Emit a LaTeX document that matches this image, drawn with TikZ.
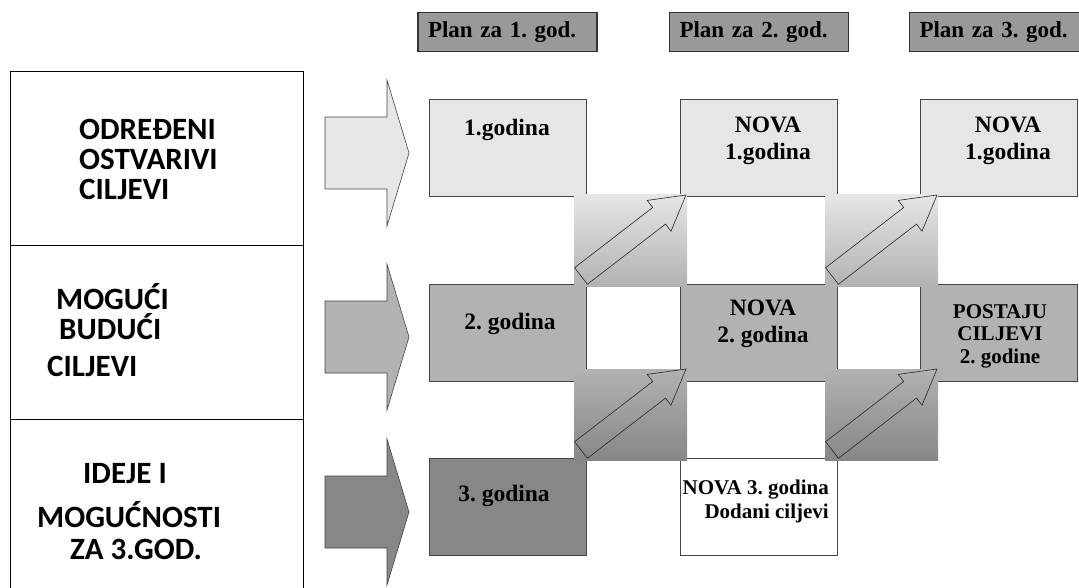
\documentclass[tikz,border=0pt]{standalone}
\usepackage{fontspec}
\setmainfont{Liberation Serif}
\newfontfamily\goalfont{Carlito}
\usetikzlibrary{positioning}
\frenchspacing

\definecolor{rowA}{HTML}{E6E6E6}
\definecolor{rowB}{HTML}{B2B2B2}
\definecolor{rowC}{HTML}{878787}
\definecolor{planfill}{HTML}{999999}
\definecolor{edge}{HTML}{454545}

\begin{document}
\begin{tikzpicture}[x=1pt, y=-1pt,
  cell/.style={draw=edge, line width=0.8pt, minimum width=157pt, minimum height=97pt, inner sep=0pt, fill=#1},
  cell/.default=white,
  plan/.style={draw=black!80, line width=1.2pt, fill=planfill, text width=159pt, align=left, inner xsep=10pt, inner ysep=0pt, minimum height=39pt, font=\fontsize{23}{26}\selectfont\bfseries},
  goal/.style={draw, line width=0.9pt, minimum width=293pt, minimum height=174pt, inner sep=0pt, outer sep=0pt},
  txt/.style={font=\fontsize{23.5}{27}\selectfont\bfseries, align=center, anchor=base, inner sep=0pt},
  small/.style={font=\fontsize{21}{22.5}\selectfont\bfseries, align=center, anchor=base, inner sep=0pt},
  side/.style={font=\goalfont\fontsize{31}{30}\selectfont\bfseries, align=left, anchor=base west, inner sep=0pt},
  fat/.style={draw=edge, line width=0.6pt},
  up/.style={draw=black!85, line width=0.6pt}]
\useasboundingbox (0,0) rectangle (1079,588);

% left column
\node[goal] (goal1) at (156.5,158) {};
\node[goal, below=0pt of goal1] (goal2) {};
\node[goal, below=0pt of goal2] (goal3) {};
\node[side] (s1) at (79,200) {ODREĐENI\\OSTVARIVI\\CILJEVI};
\node[side] (s2) at (47,376) {\hspace*{9pt}MOGUĆI\\\hspace*{12pt}BUDUĆI\\[7pt]CILJEVI};
\node[side] (s3) at (37,559) {\hspace*{46pt}IDEJE I\\[14pt]MOGUĆNOSTI\\[2pt]\hspace*{33pt}ZA 3.GOD.};

% fat arrows into the rows
\foreach \yy/\tone in {153/rowA, 337/rowB, 512/rowC}
  \draw[fat, fill=\tone] (325,\yy-36) -- (387,\yy-36) -- (387,\yy-73) -- (409,\yy)
    -- (387,\yy+73) -- (387,\yy+36) -- (325,\yy+36) -- cycle;

% year boxes
\node[cell=rowA] (r1c1) at (507.5,148) {};
\node[cell=rowA] (r1c2) at (759,148) {};
\node[cell=rowA] (r1c3) at (999,148) {};
\node[cell=rowB] (r2c1) at (507.5,332.5) {};
\node[cell=rowB] (r2c2) at (759,332.5) {};
\node[cell=rowB] (r2c3) at (999,332.5) {};
\node[cell=rowC] (r3c1) at (507.5,506.5) {};
\node[cell] (r3c2) at (759,506.5) {};

\node[plan, above=47pt of r1c1] (plan1) {Plan za 1. god.};
\node[plan, above=47pt of r1c2] (plan2) {Plan za 2. god.};
\node[plan, above=47pt of r1c3] (plan3) {Plan za 3. god.};

\node[txt] (t11) at (507,136) {1.godina};
\node[txt] (t12) at (768,160) {NOVA\\1.godina};
\node[txt] (t13) at (1008,160) {NOVA\\1.godina};
\node[txt] (t21) at (510,329) {2. godina};
\node[txt] (t22) at (763,342) {NOVA\\2. godina};
\node[small] (t23) at (1000,363) {POSTAJU\\CILJEVI\\2. godine};
\node[txt] (t31) at (504,501) {3. godina};
\node[small, align=right, anchor=base east] (t32) at (829,518) {NOVA 3. godina\\[1.5pt]Dodani ciljevi};

% shaded steps with the diagonal arrows
\foreach \cx/\cy/\ctop/\cbot in {574/286/rowA/rowB, 825/286/rowA/rowB, 574/460/rowB/rowC, 825/460/rowB/rowC} {
  \shade[top color=\ctop, bottom color=\cbot] (\cx,\cy) rectangle ++(113,-91);
  \begin{scope}[shift={(\cx,\cy)}]
    \draw[up] (0.6,-18.3) -- (78.7,-78.5) -- (73.2,-85.6) -- (112,-91) -- (97,-54.8)
      -- (91.5,-61.9) -- (13.4,-1.7) -- cycle;
  \end{scope}
}
\end{tikzpicture}
\end{document}
